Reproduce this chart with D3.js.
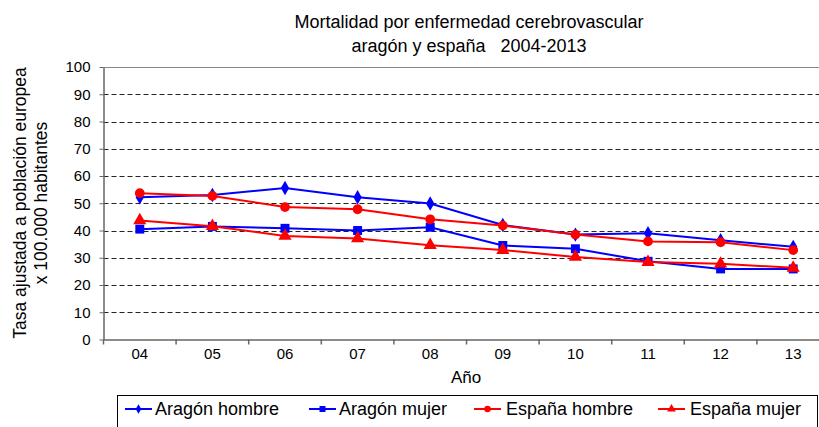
<!DOCTYPE html>
<html>
<head>
<meta charset="utf-8">
<script src="https://cdn.jsdelivr.net/npm/d3@7"></script>
<style>
  body { margin: 0; background: #fff; }
  svg { font-family: "Liberation Sans", Arial, Helvetica, sans-serif; }
</style>
</head>
<body>
<div id="chart"></div>
<script>
// Daten
const years = ["04", "05", "06", "07", "08", "09", "10", "11", "12", "13"];
const aragonHombre = [52.2, 53.0, 55.6, 52.2, 49.9, 42.0, 38.5, 39.0, 36.4, 34.0];
const aragonMujer = [40.5, 41.5, 40.8, 40.0, 41.2, 34.5, 33.3, 28.7, 25.9, 25.9];
const espanaHombre = [53.7, 52.7, 48.6, 47.8, 44.1, 41.8, 38.5, 36.0, 35.7, 32.8];
const espanaMujer = [43.7, 41.6, 38.0, 37.1, 34.6, 32.8, 30.3, 28.4, 27.8, 26.3];
const yTicks = [0, 10, 20, 30, 40, 50, 60, 70, 80, 90, 100];

const series = [
    { name: "Aragón hombre", values: aragonHombre, color: "#0000ff", symbol: d3.symbolDiamond, size: 60 },
    { name: "Aragón mujer", values: aragonMujer, color: "#0000ff", symbol: d3.symbolSquare, size: 80 },
    { name: "España hombre", values: espanaHombre, color: "#ff0000", symbol: d3.symbolCircle, size: 75 },
    { name: "España mujer", values: espanaMujer, color: "#ff0000", symbol: d3.symbolTriangle, size: 75 }
];

const width = 819, height = 427;
const plot = { left: 103.5, right: 829.5, top: 67, bottom: 339.5 };

const svg = d3.select("#chart").append("svg")
    .attr("width", width)
    .attr("height", height);

const x = d3.scaleBand()
    .domain(years)
    .range([plot.left, plot.right]);

const y = d3.scaleLinear()
    .domain([0, 100])
    .range([plot.bottom, plot.top]);

// Gitterlinien
svg.append("g")
    .selectAll("line")
    .data(yTicks.filter(t => t > 0 && t < 100))
    .enter()
    .append("line")
    .attr("x1", plot.left)
    .attr("x2", plot.right)
    .attr("y1", d => Math.round(y(d)) + 0.5)
    .attr("y2", d => Math.round(y(d)) + 0.5)
    .attr("stroke", "#222")
    .attr("stroke-dasharray", "5,3");

// obere Linie
svg.append("line")
    .attr("x1", plot.left).attr("x2", plot.right)
    .attr("y1", Math.round(y(100)) + 0.5).attr("y2", Math.round(y(100)) + 0.5)
    .attr("stroke", "#888");

// Achsen
const yAxis = svg.append("g")
    .attr("transform", `translate(${plot.left},0)`)
    .call(d3.axisLeft(y).tickValues(yTicks).tickSize(4).tickSizeOuter(0));
yAxis.select(".domain").attr("stroke", "#666").attr("stroke-width", 1.5);
yAxis.selectAll(".tick line").attr("stroke", "#666");
yAxis.selectAll("text").style("font-size", "15px").attr("x", -13).attr("fill", "#000");

const xAxis = svg.append("g")
    .attr("transform", `translate(0,${plot.bottom})`)
    .call(d3.axisBottom(x).tickSize(0).tickSizeOuter(0));
xAxis.select(".domain").attr("stroke", "#666").attr("stroke-width", 1.5);
xAxis.selectAll("text").style("font-size", "15px").attr("y", 9).attr("fill", "#000");

// Teilstriche zwischen den Kategorien
svg.append("g")
    .selectAll("line")
    .data(years)
    .enter()
    .append("line")
    .attr("x1", d => x(d))
    .attr("x2", d => x(d))
    .attr("y1", plot.bottom)
    .attr("y2", plot.bottom + 5)
    .attr("stroke", "#666")
    .attr("stroke-width", 1.5);

// Linien und Marker
const line = d3.line()
    .x((d, i) => x(years[i]) + x.bandwidth() / 2)
    .y(d => y(d));

series.forEach(s => {
    svg.append("path")
        .datum(s.values)
        .attr("d", line)
        .attr("fill", "none")
        .attr("stroke", s.color)
        .attr("stroke-width", 2);

    svg.append("g")
        .selectAll("path")
        .data(s.values)
        .enter()
        .append("path")
        .attr("transform", (d, i) => `translate(${x(years[i]) + x.bandwidth() / 2},${y(d)})`)
        .attr("d", d3.symbol().type(s.symbol).size(s.size))
        .attr("fill", s.color);
});

// Titel
const title = svg.append("text")
    .attr("text-anchor", "middle")
    .style("font-size", "18px")
    .style("white-space", "pre");
title.append("tspan").attr("x", 469).attr("y", 28).text("Mortalidad por enfermedad cerebrovascular");
title.append("tspan").attr("x", 469).attr("y", 52).text("aragón y españa   2004-2013");

// Achsentitel
svg.append("text")
    .attr("x", 466)
    .attr("y", 383)
    .attr("text-anchor", "middle")
    .style("font-size", "17px")
    .text("Año");

const yTitle = svg.append("text")
    .attr("transform", "translate(0,203) rotate(-90)")
    .attr("text-anchor", "middle")
    .style("font-size", "17.5px");
yTitle.append("tspan").attr("x", 0).attr("y", 26).text("Tasa ajustada a población europea");
yTitle.append("tspan").attr("x", 0).attr("y", 47).text("x 100.000 habitantes");

// Legende
const legend = svg.append("g");
legend.append("rect")
    .attr("x", 117.5)
    .attr("y", 395.5)
    .attr("width", 700)
    .attr("height", 40)
    .attr("fill", "none")
    .attr("stroke", "#000");

const legendX = [125, 309, 474, 658];
series.forEach((s, i) => {
    const g = legend.append("g").attr("transform", `translate(${legendX[i]},409)`);
    g.append("line")
        .attr("x1", 0).attr("x2", 27)
        .attr("stroke", s.color)
        .attr("stroke-width", 2);
    g.append("path")
        .attr("transform", "translate(13.5,0)")
        .attr("d", d3.symbol().type(s.symbol).size(s.size * 0.45))
        .attr("fill", s.color);
    g.append("text")
        .attr("x", i < 2 ? 30 : 32)
        .attr("y", 6)
        .style("font-size", "18px")
        .text(s.name);
});
</script>
</body>
</html>
